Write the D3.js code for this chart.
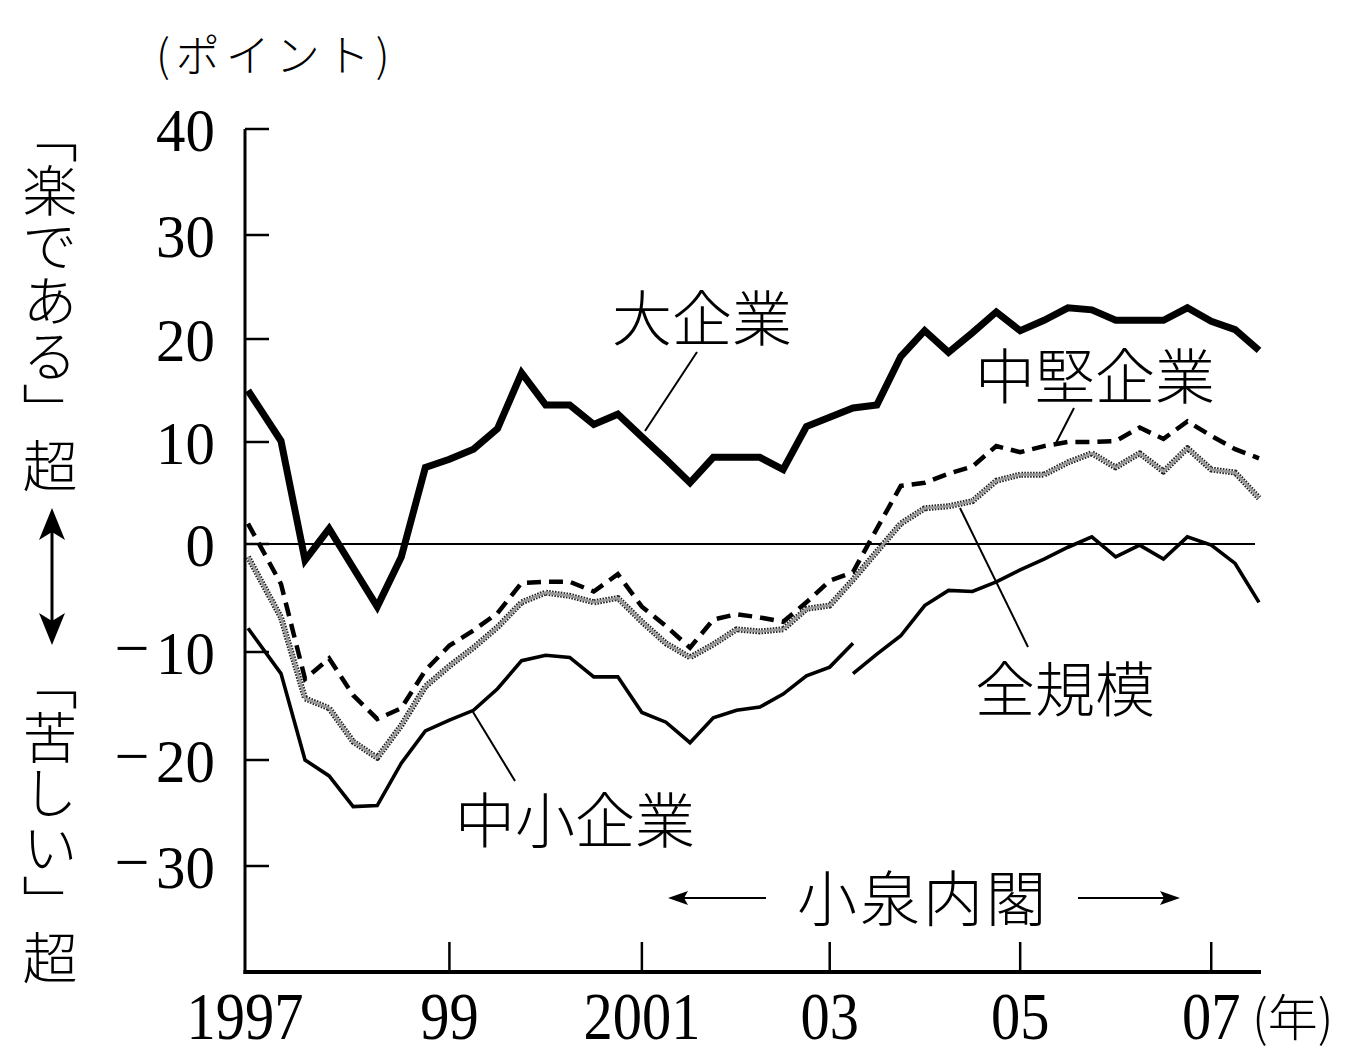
<!DOCTYPE html>
<html><head><meta charset="utf-8">
<script src="https://cdn.jsdelivr.net/npm/d3@7"></script>
<style>html,body{margin:0;padding:0;background:#fff;} svg{display:block}</style>
</head><body>
<svg id="c" width="1348" height="1055"></svg>
<script>
// ---- data (quarterly, 1997Q1 .. 2007Q3) ----
const quarters = [];
for (let yr = 1997; yr <= 2007; yr++) for (let q = 1; q <= 4; q++) if (!(yr === 2007 && q === 4)) quarters.push(yr + "Q" + q);

const large = [15, 10.1, -1.5, 1.5, -2.2, -5.8, -1.2, 7.5, 8.3, 9.3, 11.3, 16.7, 13.6, 13.6, 11.7, 12.7,
  10.5, 8.3, 6.0, 8.5, 8.5, 8.5, 7.3, 11.5, 12.4, 13.3, 13.6, 18.3, 20.8, 18.7, 20.6, 22.6,
  20.8, 21.8, 23.0, 22.8, 21.8, 21.8, 21.8, 23.0, 21.7, 20.9, 18.9];
const medium = [2.0, -3.7, -12.5, -10.6, -14.0, -16.2, -15.2, -11.7, -9.4, -8.0, -6.4, -3.6, -3.5, -3.5, -4.4, -2.8,
  -5.8, -7.6, -9.6, -7.0, -6.5, -6.8, -7.2, -5.4, -3.4, -2.6, 1.5, 5.7, 6.0, 6.9, 7.6, 9.6,
  9.0, 9.6, 10.0, 10.0, 10.1, 11.4, 10.3, 12.0, 10.6, 9.3, 8.4];
const allSizes = [-1.2, -6.8, -14.3, -15.2, -18.3, -19.8, -16.8, -13.2, -11.3, -9.6, -7.7, -5.4, -4.5, -4.8, -5.4, -5.0,
  -7.2, -9.2, -10.5, -9.3, -7.9, -8.1, -7.9, -6.0, -5.7, -3.3, -0.7, 2.0, 3.5, 3.7, 4.2, 6.2,
  6.8, 6.8, 8.0, 8.9, 7.5, 8.9, 7.1, 9.4, 7.3, 7.0, 4.5];
// small firms: old basis and new basis (break in 2003)
const smallOld = [-7.8, -12.0, -20.0, -21.5, -24.4, -24.3, -20.3, -17.3, -16.3, -15.4, -13.4, -10.8, -10.3, -10.5, -12.3, -12.3,
  -15.6, -16.5, -18.4, -16.1, -15.4, -15.1, -13.9, -12.2, -11.4, -9.2,
  null, null, null, null, null, null, null, null, null, null, null, null, null, null, null, null, null];
const smallNew = [null, null, null, null, null, null, null, null, null, null, null, null, null, null, null, null,
  null, null, null, null, null, null, null, null, null, -12.0,
  -10.2, -8.5, -5.7, -4.3, -4.4, -3.5, -2.4, -1.4, -0.3, 0.7, -1.2, -0.1, -1.4, 0.7, -0.1, -1.8, -5.4];

const yTickValues = [40, 30, 20, 10, 0, -10, -20, -30];
const yTickLabels = ["40", "30", "20", "10", "0", "10", "20", "30"];
const xTickYears = [1997, 1999, 2001, 2003, 2005, 2007];
const xTickLabels = ["1997", "99", "2001", "03", "05", "07"];

// ---- scales ----
const tOf = s => +s.slice(0, 4) + (+s.slice(5) - 1) / 4;
const x = d3.scaleLinear().domain([1997, 1997.25, 2001.5, 2003.25, 2007.5]).range([248, 281, 690, 853, 1259]);
const y = d3.scaleLinear().domain([-40, -30, -20, -10, 0, 10, 20, 30, 40])
  .range([972, 866, 760, 652, 544, 442, 339, 235, 129]);
const X0 = 245, X1 = 1261, YB = 972, YT = 129;

const svg = d3.select("#c");
const NUM = "'Liberation Serif','DejaVu Serif',serif";
const JP = "'Noto Sans CJK JP','Noto Sans CJK SC',sans-serif";

// axes
svg.append("line").attr("x1", X0).attr("x2", X0).attr("y1", YT).attr("y2", YB + 2)
  .attr("stroke", "#000").attr("stroke-width", 3);
svg.append("line").attr("x1", X0 - 1.5).attr("x2", X1).attr("y1", YB).attr("y2", YB)
  .attr("stroke", "#000").attr("stroke-width", 4);

// y ticks + labels
yTickValues.forEach((v, i) => {
  const yy = y(v);
  svg.append("line").attr("x1", X0).attr("x2", X0 + 24).attr("y1", yy).attr("y2", yy)
    .attr("stroke", "#000").attr("stroke-width", 2.5);
  svg.append("text").attr("transform", `translate(215,${yy + 22}) scale(0.95,1)`)
    .attr("text-anchor", "end").attr("font-family", NUM).attr("font-size", 62).text(yTickLabels[i]);
  if (v < 0) {
    svg.append("text").attr("transform", `translate(132,${yy + 17})`)
      .attr("text-anchor", "middle").attr("font-family", NUM).attr("font-size", 62).text("−");
  }
});

// x ticks + labels
xTickYears.forEach((yr, i) => {
  const xx = yr === 1997 ? X0 : x(yr);
  if (yr !== 1997) {
    svg.append("line").attr("x1", xx).attr("x2", xx).attr("y1", YB).attr("y2", YB - 30)
      .attr("stroke", "#000").attr("stroke-width", 2.5);
  }
  svg.append("text").attr("transform", `translate(${xx},1039) scale(0.9,1.05)`)
    .attr("text-anchor", "middle").attr("font-family", NUM).attr("font-size", 65).text(xTickLabels[i]);
});
svg.append("text").attr("x", 1252).attr("y", 1036).attr("font-family", JP).attr("font-size", 50)
  .attr("font-weight", 300).text("(年)");
svg.append("text").attr("x", 156).attr("y", 72).attr("font-family", JP).attr("font-size", 44)
  .attr("font-weight", 300).attr("letter-spacing", 6).text("(ポイント)");

// zero line
svg.append("line").attr("x1", X0).attr("x2", 1255).attr("y1", y(0)).attr("y2", y(0))
  .attr("stroke", "#000").attr("stroke-width", 2);

// series
const mk = arr => quarters.map((q, i) => ({ t: tOf(q), v: arr[i] }));
const line = d3.line().defined(d => d.v != null).x(d => x(d.t)).y(d => y(d.v));
const g = svg.append("g").attr("fill", "none");

// all sizes: textured grey band
g.append("path").attr("d", line(mk(allSizes))).attr("stroke", "#222").attr("stroke-width", 6)
  .attr("stroke-dasharray", "1.6,1.3").attr("stroke-linejoin", "round");
g.append("path").attr("d", line(mk(allSizes))).attr("stroke", "#999").attr("stroke-width", 2.6)
  .attr("stroke-linejoin", "round");
// medium: dashed
g.append("path").attr("d", line(mk(medium))).attr("stroke", "#000").attr("stroke-width", 4.5)
  .attr("stroke-dasharray", "14,8").attr("stroke-linejoin", "miter");
// small: thin solid, two bases
g.append("path").attr("d", line(mk(smallOld))).attr("stroke", "#000").attr("stroke-width", 3.6)
  .attr("stroke-linejoin", "miter").attr("stroke-miterlimit", 3);
g.append("path").attr("d", line(mk(smallNew))).attr("stroke", "#000").attr("stroke-width", 3.6)
  .attr("stroke-linejoin", "miter").attr("stroke-miterlimit", 3);
// large: thick solid
g.append("path").attr("d", line(mk(large))).attr("stroke", "#000").attr("stroke-width", 7)
  .attr("stroke-linejoin", "miter").attr("stroke-miterlimit", 2.5);

// labels and leader lines
const lab = (txt, xx, yy) => svg.append("text").attr("x", xx).attr("y", yy).attr("font-family", JP)
  .attr("font-size", 60).attr("font-weight", 300).text(txt);
lab("大企業", 612, 341);
lab("中堅企業", 975, 399);
lab("全規模", 975, 712);
lab("中小企業", 455, 843);
lab("小泉内閣", 797, 921).attr("letter-spacing", 3);
const leader = (x1, y1, x2, y2) => svg.append("line").attr("x1", x1).attr("y1", y1).attr("x2", x2).attr("y2", y2)
  .attr("stroke", "#000").attr("stroke-width", 2);
leader(697, 352, 645, 431);
leader(1074, 408, 1056, 443);
leader(960, 508, 1028, 647);
leader(473, 712, 515, 781);

// Koizumi arrows
const arrowY = 898;
svg.append("line").attr("x1", 672).attr("x2", 766).attr("y1", arrowY).attr("y2", arrowY).attr("stroke", "#000").attr("stroke-width", 2);
svg.append("path").attr("d", `M668,${arrowY} L688,${arrowY - 7} L684,${arrowY} L688,${arrowY + 7} Z`).attr("fill", "#000");
svg.append("line").attr("x1", 1078).attr("x2", 1176).attr("y1", arrowY).attr("y2", arrowY).attr("stroke", "#000").attr("stroke-width", 2);
svg.append("path").attr("d", `M1180,${arrowY} L1160,${arrowY - 7} L1164,${arrowY} L1160,${arrowY + 7} Z`).attr("fill", "#000");

// left vertical captions (vertical presentation forms for the brackets)
const vt = (txt, yy) => svg.append("text").attr("x", 50).attr("y", yy).attr("font-family", JP)
  .attr("font-size", 55).attr("font-weight", 300).style("writing-mode", "vertical-rl").text(txt);
vt("\uFE41楽である\uFE42超", 108);
vt("\uFE41苦しい\uFE42超", 655);
// double arrow
const ax = 52;
svg.append("line").attr("x1", ax).attr("x2", ax).attr("y1", 530).attr("y2", 624).attr("stroke", "#000").attr("stroke-width", 3);
svg.append("path").attr("d", `M${ax},508 L${ax - 13},540 L${ax},532 L${ax + 13},540 Z`).attr("fill", "#000");
svg.append("path").attr("d", `M${ax},645 L${ax - 13},613 L${ax},621 L${ax + 13},613 Z`).attr("fill", "#000");
</script>
</body></html>
